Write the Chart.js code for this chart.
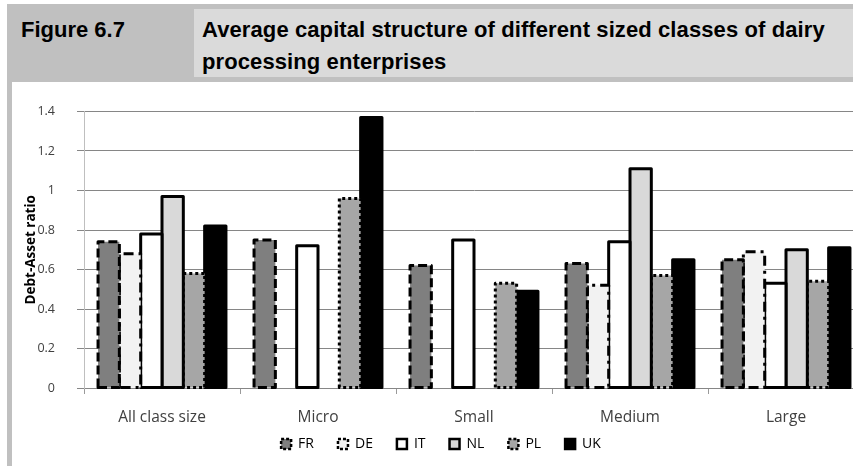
<!DOCTYPE html>
<html>
<head>
<meta charset="utf-8">
<script src="https://cdn.jsdelivr.net/npm/chart.js@4.4.0/dist/chart.umd.min.js"></script>
<style>
  html, body { margin: 0; padding: 0; background: #fff; }
  body { width: 853px; height: 466px; overflow: hidden; position: relative; }
  #band { position: absolute; left: 7px; top: 4px; width: 846px; height: 78px; background: #c0c0c0; }
  #figno { position: absolute; left: 21px; top: 14px; font: bold 22px "Liberation Sans", Arial, sans-serif; line-height: 32px; color: #000; }
  #titlebox { position: absolute; left: 194px; top: 9px; width: 659px; height: 68px; background: #dadada; }
  #title { position: absolute; left: 202px; top: 14px; width: 650px; font: bold 22px "Liberation Sans", Arial, sans-serif; letter-spacing: 0.1px; line-height: 32px; color: #000; }
  #sidebar { position: absolute; left: 7px; top: 82px; width: 5px; height: 384px; background: #c0c0c0; }
  #wrap { position: absolute; left: 0; top: 82px; width: 888px; height: 410px; }
</style>
</head>
<body>
<div id="band"></div>
<div id="titlebox"></div>
<div id="figno">Figure 6.7</div>
<div id="title">Average capital structure of different sized classes of dairy processing enterprises</div>
<div id="sidebar"></div>
<div id="wrap"><canvas id="myChart" width="888" height="410"></canvas></div>

<script>
// size classes and debt-asset ratios per country
var categories = ['All class size', 'Micro', 'Small', 'Medium', 'Large'];
var frValues = [0.74, 0.75, 0.62, 0.63, 0.65];
var deValues = [0.68, null, null, 0.52, 0.69];
var itValues = [0.78, 0.72, 0.75, 0.74, 0.53];
var nlValues = [0.97, null, null, 1.11, 0.70];
var plValues = [0.58, 0.96, 0.53, 0.57, 0.54];
var ukValues = [0.82, 1.37, 0.49, 0.65, 0.71];
var yTicks = ['0', '0.2', '0.4', '0.6', '0.8', '1', '1.2', '1.4'];

// bars in Chart.js can't take a dashed border, so outlines are stroked here
var outlinePlugin = {
    id: 'outline',
    afterLayout: function (chart) {
        // x labels sit below the thin axis box, don't let them get clipped
        chart.scales.x.bottom = chart.height;
    },
    afterDatasetDraw: function (chart, args) {
        var ds = chart.data.datasets[args.index];
        var ctx = chart.ctx;
        args.meta.data.forEach(function (bar, i) {
            if (ds.data[i] == null) return;
            var p = bar.getProps(['x', 'y', 'base', 'width'], true);
            var l = p.x - p.width / 2, r = p.x + p.width / 2;
            ctx.save();
            ctx.strokeStyle = '#000';
            ctx.lineWidth = ds.outlineWidth;
            ctx.setLineDash(ds.outlineDash);
            ctx.lineJoin = 'round';
            ctx.beginPath();
            ctx.moveTo(l, p.base);
            ctx.lineTo(l, p.y);
            ctx.lineTo(r, p.y);
            ctx.lineTo(r, p.base);
            ctx.closePath();
            ctx.stroke();
            ctx.restore();
        });
    }
};

function series(label, data, fill, dash) {
    return {
        label: label,
        data: data,
        backgroundColor: fill,
        borderWidth: 0,
        outlineWidth: 3,
        outlineDash: dash
    };
}

var ctx = document.getElementById('myChart').getContext('2d');

var myChart = new Chart(ctx, {
    type: 'bar',
    data: {
        labels: categories,
        datasets: [
            series('FR', frValues, '#7f7f7f', [9, 4]),
            series('DE', deValues, '#f2f2f2', [10, 5, 3, 5]),
            series('IT', itValues, '#ffffff', []),
            series('NL', nlValues, '#d9d9d9', []),
            series('PL', plValues, '#a6a6a6', [3, 3]),
            series('UK', ukValues, '#000000', [])
        ]
    },
    plugins: [outlinePlugin],
    options: {
        responsive: false,
        animation: false,
        events: [],
        datasets: {
            bar: { categoryPercentage: 0.82, barPercentage: 1 }
        },
        layout: { padding: { top: 21, left: 18, right: 24, bottom: 31 } },
        plugins: {
            tooltip: { enabled: false },
            legend: {
                position: 'bottom',
                labels: {
                    boxWidth: 10,
                    boxHeight: 10,
                    padding: 24,
                    color: '#404040',
                    font: { family: 'Open Sans', size: 14 },
                    generateLabels: function (chart) {
                        return chart.data.datasets.map(function (ds, i) {
                            return {
                                text: ds.label,
                                fillStyle: ds.backgroundColor,
                                strokeStyle: '#000',
                                lineWidth: 2.5,
                                lineDash: ds.outlineDash.length ? [3, 2] : [],
                                datasetIndex: i
                            };
                        });
                    }
                }
            }
        },
        scales: {
            x: {
                afterFit: function (scale) { scale.height = 25; },
                grid: {
                    offset: true,
                    drawOnChartArea: false,
                    tickLength: 6,
                    color: '#9a9a9a'
                },
                border: { color: '#868686' },
                ticks: {
                    padding: 14,
                    color: '#404040',
                    font: { family: 'Open Sans', size: 15.5 }
                }
            },
            y: {
                min: 0,
                max: 1.4,
                afterFit: function (scale) { scale.width = 66; },
                grid: { color: '#868686', tickLength: 7 },
                border: { color: '#bfbfbf' },
                ticks: {
                    stepSize: 0.2,
                    padding: 22,
                    color: '#404040',
                    font: { family: 'Open Sans', size: 12.5 },
                    callback: function (value, index) { return yTicks[index]; }
                },
                title: {
                    display: true,
                    text: 'Debt-Asset ratio',
                    color: '#000',
                    padding: { top: 5, bottom: 0 },
                    font: { family: 'Open Sans', size: 13.5, weight: 'bold' }
                }
            }
        }
    }
});
</script>
</body>
</html>
